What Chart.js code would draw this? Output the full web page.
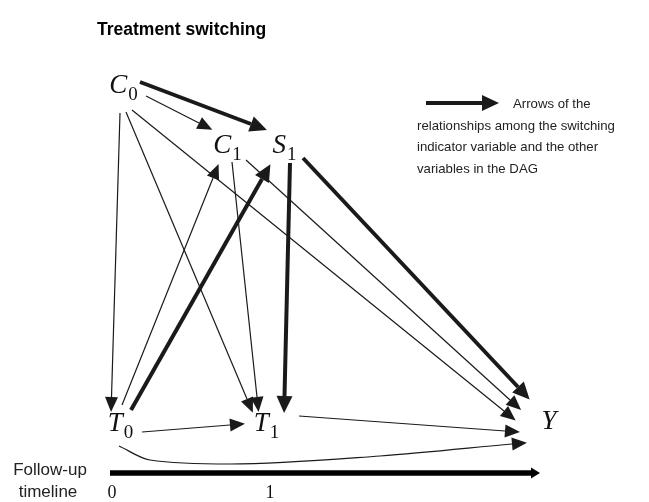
<!DOCTYPE html>
<html>
<head>
<meta charset="utf-8">
<script src="https://cdn.jsdelivr.net/npm/chart.js@4/dist/chart.umd.min.js"></script>
<style>
  html, body { margin: 0; padding: 0; background: #fff; }
  #wrap { width: 649px; height: 502px; }
</style>
</head>
<body>
<div id="wrap"><canvas id="dag" width="649" height="502"></canvas></div>
<script>
// layout units: x 0..649, y 0..502 (top to bottom)
const nodeLetters = ['C', 'C', 'S', 'T', 'T', 'Y'];
const nodeSubs = ['0', '1', '1', '0', '1', ''];
const nodeX = [123, 227, 284, 120, 266, 549];
const nodeY = [84, 144, 144, 422, 422, 420];

// each edge: from, to, bold, path points (last point = base of arrow head)
const edgeFrom = ['C0', 'C0', 'C0', 'C0', 'C0', 'C1', 'C1', 'S1', 'S1', 'T0', 'T0', 'T0', 'T1', 'T0'];
const edgeTo   = ['C1', 'S1', 'T0', 'T1', 'Y',  'T1', 'Y',  'T1', 'Y',  'C1', 'S1', 'T1', 'Y',  'Y'];
const edgeBold = [false, true, false, false, false, false, false, true, true, false, true, false, false, false];
const edgePaths = [
  [[146, 96], [199, 123]],
  [[140, 82], [251, 124]],
  [[120, 113], [111.5, 397]],
  [[126, 112], [247, 399]],
  [[132, 110], [504, 411]],
  [[232, 162], [257, 397]],
  [[246, 160], [510, 400]],
  [[290, 163], [284.5, 396]],
  [[303, 158], [518, 387]],
  [[122, 405], [213, 178]],
  [[131, 410], [262, 179]],
  [[142, 432], [230, 425]],
  [[299, 416], [505, 431]],
  [[119, 446], [150, 460], [230, 464], [380, 456], [512, 444]]
];

const timelinePath = [[110, 473], [531, 473]];
const timelineTicks = ['0', '1'];
const timelineTickX = [112, 270];
const legendPath = [[426, 103], [482, 103]];

const titleText = 'Treatment switching';
const legendLines = ['Arrows of the', 'relationships among the switching', 'indicator variable and the other', 'variables in the DAG'];
const axisLines = ['Follow-up', 'timeline'];

const ink = '#1a1a1a';
const toPts = p => p.map(q => ({ x: q[0], y: q[1] }));

const datasets = edgePaths.map((p, i) => ({
  label: edgeFrom[i] + '->' + edgeTo[i],
  data: toPts(p),
  showLine: true,
  borderColor: ink,
  borderWidth: edgeBold[i] ? 4 : 1.2,
  pointRadius: 0,
  cubicInterpolationMode: p.length > 2 ? 'monotone' : 'default',
  head: edgeBold[i] ? [17, 8] : [15, 6.5]
}));
datasets.push({ label: 'legend', data: toPts(legendPath), showLine: true, borderColor: ink, borderWidth: 4, pointRadius: 0, head: [17, 8] });
datasets.push({ label: 'timeline', data: toPts(timelinePath), showLine: true, borderColor: '#000', borderWidth: 5.5, pointRadius: 0, head: [9, 5.5] });

const dagPlugin = {
  id: 'dag',
  afterDatasetsDraw(chart) {
    const ctx = chart.ctx;
    const xs = chart.scales.x, ys = chart.scales.y;
    ctx.save();
    // arrow heads
    chart.data.datasets.forEach((ds, i) => {
      const pts = chart.getDatasetMeta(i).data;
      const a = pts[pts.length - 2], b = pts[pts.length - 1];
      const dx = b.x - a.x, dy = b.y - a.y, len = Math.hypot(dx, dy);
      const ux = dx / len, uy = dy / len;
      const [hl, hw] = ds.head;
      ctx.fillStyle = ds.borderColor;
      ctx.beginPath();
      ctx.moveTo(b.x + ux * hl, b.y + uy * hl);
      ctx.lineTo(b.x - uy * hw, b.y + ux * hw);
      ctx.lineTo(b.x + uy * hw, b.y - ux * hw);
      ctx.closePath();
      ctx.fill();
    });
    // node labels
    ctx.fillStyle = '#111';
    ctx.textBaseline = 'alphabetic';
    ctx.textAlign = 'left';
    nodeLetters.forEach((l, i) => {
      ctx.font = 'italic 27px "Liberation Serif"';
      const w1 = ctx.measureText(l).width;
      ctx.font = '19px "Liberation Serif"';
      const w2 = ctx.measureText(nodeSubs[i]).width;
      const px = xs.getPixelForValue(nodeX[i]) - (w1 + w2) / 2;
      const py = ys.getPixelForValue(nodeY[i]);
      ctx.font = 'italic 27px "Liberation Serif"';
      ctx.fillText(l, px, py + 9);
      ctx.font = '19px "Liberation Serif"';
      ctx.fillText(nodeSubs[i], px + w1 + 1, py + 16);
    });
    // timeline ticks
    ctx.font = '18px "Liberation Serif"';
    ctx.textAlign = 'center';
    timelineTicks.forEach((t, i) => {
      ctx.fillText(t, xs.getPixelForValue(timelineTickX[i]), ys.getPixelForValue(498));
    });
    // texts
    ctx.fillStyle = '#222';
    ctx.font = '17px "Liberation Sans"';
    ctx.textAlign = 'center';
    ctx.fillText(axisLines[0], xs.getPixelForValue(50), ys.getPixelForValue(475));
    ctx.fillText(axisLines[1], xs.getPixelForValue(48), ys.getPixelForValue(497));
    ctx.textAlign = 'left';
    ctx.font = '13.2px "Liberation Sans"';
    ctx.fillText(legendLines[0], xs.getPixelForValue(513), ys.getPixelForValue(108));
    for (let k = 1; k < legendLines.length; k++) {
      ctx.fillText(legendLines[k], xs.getPixelForValue(417), ys.getPixelForValue(108 + 21.5 * k));
    }
    ctx.fillStyle = '#000';
    ctx.font = 'bold 17.5px "Liberation Sans"';
    ctx.fillText(titleText, xs.getPixelForValue(97), ys.getPixelForValue(35));
    ctx.restore();
  }
};

new Chart(document.getElementById('dag'), {
  type: 'scatter',
  data: { datasets: datasets },
  options: {
    responsive: false,
    animation: false,
    devicePixelRatio: 1,
    layout: { padding: 0 },
    scales: {
      x: { type: 'linear', min: 0, max: 649, display: false },
      y: { type: 'linear', min: 0, max: 502, reverse: true, display: false }
    },
    plugins: { legend: { display: false }, tooltip: { enabled: false } }
  },
  plugins: [dagPlugin]
});
</script>
</body>
</html>
